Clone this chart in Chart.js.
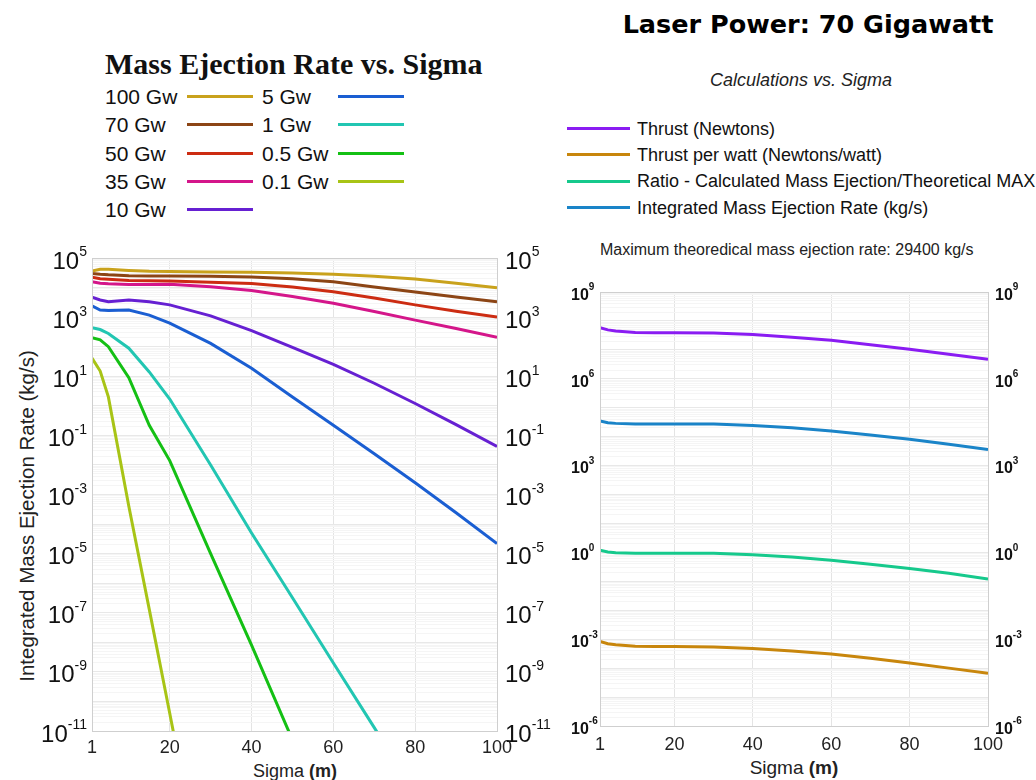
<!DOCTYPE html>
<html>
<head>
<meta charset="utf-8">
<script src="https://cdn.jsdelivr.net/npm/chart.js@4.4.1/dist/chart.umd.min.js"></script>
<style>
  body { margin: 0; width: 1036px; height: 780px; position: relative; overflow: hidden; background: #fff;
         font-family: "Liberation Sans", Arial, sans-serif; color: #111; }
  .abs { position: absolute; white-space: nowrap; }
  .sw { position: absolute; height: 3px; }
  canvas { position: absolute; }
</style>
</head>
<body>
<div class="abs" style="left:105px;top:49px;font:bold 30px/30px 'Liberation Serif',serif;">Mass Ejection Rate vs. Sigma</div>
<div class="abs" style="left:608px;top:10px;width:400px;text-align:center;font:bold 25.5px/28px 'DejaVu Sans';color:#000;">Laser Power: 70 Gigawatt</div>
<div class="abs" style="left:601px;top:71px;width:400px;text-align:center;font:italic 18px/18px 'Liberation Sans';color:#222;">Calculations vs. Sigma</div>
<div class="abs" style="left:600px;top:242px;font:16px/16px 'Liberation Sans';color:#222;">Maximum theoredical mass ejection rate: 29400 kg/s</div>
<div class="abs" style="left:-163px;top:506px;width:380px;text-align:center;transform:rotate(-90deg);font:20.5px/20px 'Liberation Sans';color:#222;">Integrated Mass Ejection Rate (kg/s)</div>
<div class="abs" style="left:195px;top:762px;width:200px;text-align:center;font:18px/18px 'Liberation Sans';color:#222;">Sigma <b>(m)</b></div>
<div class="abs" style="left:694px;top:758px;width:200px;text-align:center;font:19px/19px 'Liberation Sans';color:#222;">Sigma <b>(m)</b></div>
<div id="legendL"></div>
<div id="legendR"></div>
<canvas id="left" width="570" height="540" style="left:0;top:240px"></canvas>
<canvas id="right" width="496" height="540" style="left:540px;top:240px"></canvas>
<script>
// sigma (m)
const sigma = [1, 3, 5, 10, 15, 20, 30, 40, 50, 60, 70, 80, 90, 100];

// integrated mass ejection rate (kg/s) for each laser power
const powerLabels = ['100 Gw', '70 Gw', '50 Gw', '35 Gw', '10 Gw', '5 Gw', '1 Gw', '0.5 Gw', '0.1 Gw'];
const powerColors = ['#c9a21c', '#8c4515', '#cc2c12', '#d4168a', '#6620d2', '#1a5ed2', '#22c6b2', '#14c014', '#a8c416'];
const rate100 = [36300, 41700, 41700, 38000, 35500, 34700, 33900, 33100, 30900, 28200, 24000, 19500, 14100, 9800];
const rate70 = [30200, 28200, 26900, 25100, 24500, 24500, 24000, 22900, 20000, 15800, 10500, 7100, 4800, 3300];
const rate50 = [22400, 20000, 19100, 17400, 17000, 16600, 15100, 13800, 10500, 7200, 4400, 2600, 1580, 1000];
const rate35 = [15800, 14100, 13500, 12600, 12600, 12900, 10700, 7900, 5000, 2950, 1550, 790, 410, 210];
const rate10 = [4700, 3800, 3300, 3800, 3300, 2600, 1100, 350, 95, 25, 5.8, 1.2, 0.23, 0.042];
const rate5 = [2400, 1740, 1660, 1740, 1170, 630, 129, 18.6, 2.0, 0.22, 0.024, 2.5e-3, 2.4e-4, 2.2e-5];
const rate1 = [440, 380, 280, 89, 14, 1.7, 0.01, 5e-5, 3.2e-7, 2e-9, 1.3e-11, 8e-14, 5e-16, 3.2e-18];
const rate05 = [200, 170, 100, 8.9, 0.22, 0.014, 1e-5, 8e-9, 5e-12, 4e-15, 3e-18, 2.5e-21, 2e-24, 1.6e-27];
const rate01 = [41, 15, 2.0, 4e-4, 1.3e-7, 4e-11, 3e-18, 2.5e-25, 2e-32, 1.6e-39, 1.3e-46, 1e-53, 8e-61, 6e-68];
const powerRates = [rate100, rate70, rate50, rate35, rate10, rate5, rate1, rate05, rate01];

// 70 Gw calculations
const calcLabels = ['Thrust (Newtons)', 'Thrust per watt (Newtons/watt)', 'Ratio - Calculated Mass Ejection/Theoretical MAX', 'Integrated Mass Ejection Rate (kg/s)'];
const calcColors = ['#8a1cf2', '#c8860c', '#16c98c', '#1a84c8'];
const thrust = [5.9e7, 4.9e7, 4.5e7, 4.0e7, 3.9e7, 3.9e7, 3.8e7, 3.4e7, 2.75e7, 2.14e7, 1.51e7, 1.05e7, 7.1e6, 4.7e6];
const thrustPerWatt = [8.4e-4, 7.0e-4, 6.4e-4, 5.7e-4, 5.6e-4, 5.6e-4, 5.4e-4, 4.8e-4, 3.9e-4, 3.1e-4, 2.2e-4, 1.5e-4, 1.0e-4, 6.7e-5];
const ratio = [1.18, 1.03, 0.98, 0.94, 0.94, 0.94, 0.93, 0.83, 0.69, 0.54, 0.39, 0.28, 0.19, 0.12];
const massRate = [34700, 30200, 28800, 27500, 27500, 27500, 27500, 24500, 20400, 15800, 11500, 8100, 5500, 3630];
const calcSeries = [thrust, thrustPerWatt, ratio, massRate];

const xTicks = [1, 20, 40, 60, 80, 100];
const leftExps = [5, 3, 1, -1, -3, -5, -7, -9, -11];
const rightExps = [9, 6, 3, 0, -3, -6];

// html legends
function addText(parent, text, x, cy, size) {
  const d = document.createElement('div');
  d.className = 'abs';
  d.style.cssText = `left:${x}px;top:${cy - size * 0.49}px;font:${size}px/${size}px 'Liberation Sans';color:#111`;
  d.textContent = text;
  parent.appendChild(d);
}
function addSwatch(parent, color, x, cy, w) {
  const s = document.createElement('div');
  s.className = 'sw';
  s.style.cssText = `left:${x}px;top:${cy - 1.5}px;width:${w}px;background:${color}`;
  parent.appendChild(s);
}
const legL = document.getElementById('legendL');
const rowsL = [96.5, 124.5, 153, 181, 209.5];
powerLabels.forEach((lab, i) => {
  const col = i < 5 ? 0 : 1, row = i < 5 ? i : i - 5;
  addText(legL, lab, col ? 262 : 105, rowsL[row], 21);
  addSwatch(legL, powerColors[i], col ? 338 : 187, rowsL[row], 66);
});
const legR = document.getElementById('legendR');
const rowsR = [128.5, 154.5, 181, 207.5];
calcLabels.forEach((lab, i) => {
  addText(legR, lab, 637, rowsR[i], 18);
  addSwatch(legR, calcColors[i], 567, rowsR[i], 63);
});

// log ticks 1..9 per decade
function logTicks(lo, hi) {
  const t = [];
  for (let e = lo; e < hi; e++) for (let k = 1; k < 10; k++) t.push({ value: k * Math.pow(10, e) });
  t.push({ value: Math.pow(10, hi) });
  return t;
}
function isDecade(v) {
  const l = Math.log10(v);
  return Math.abs(l - Math.round(l)) < 1e-9;
}

// draws 10^n labels on both sides plus the plot frame
const expLabels = {
  id: 'expLabels',
  afterDraw(chart, args, o) {
    const ctx = chart.ctx, a = chart.chartArea, y = chart.scales.y;
    ctx.save();
    ctx.fillStyle = '#111';
    ctx.textBaseline = 'alphabetic';
    ctx.textAlign = 'left';
    o.exps.forEach(e => {
      const py = y.getPixelForValue(Math.pow(10, e)) + o.dy;
      const sup = String(e);
      ctx.font = o.base;
      const wb = ctx.measureText('10').width;
      ctx.font = o.sup;
      const ws = ctx.measureText(sup).width;
      const base = py + o.baseSize * 0.358;
      const supBase = py - o.baseSize * 0.358 - o.supLift + o.supSize * 0.716;
      const xs = [o.leftAlignRight ? o.leftX - wb - ws : o.leftX, a.right + o.rightGap];
      xs.forEach(x => {
        ctx.font = o.base;
        ctx.fillText('10', x, base);
        ctx.font = o.sup;
        ctx.fillText(sup, x + wb, supBase);
      });
    });
    ctx.strokeStyle = '#cfcfcf';
    ctx.lineWidth = 1;
    ctx.strokeRect(Math.round(a.left) + 0.5, Math.round(a.top) + 0.5, Math.round(a.right - a.left), Math.round(a.bottom - a.top));
    ctx.restore();
  }
};

function makeChart(id, labels, colors, series, cfg) {
  return new Chart(document.getElementById(id), {
    type: 'line',
    data: {
      datasets: series.map((s, i) => ({
        label: labels[i],
        data: sigma.map((x, j) => ({ x: x, y: s[j] })),
        borderColor: colors[i],
        borderWidth: 3,
        pointRadius: 0,
        tension: 0,
        fill: false
      }))
    },
    options: {
      responsive: false,
      animation: false,
      events: [],
      layout: { padding: cfg.padding },
      plugins: { legend: { display: false }, tooltip: { enabled: false }, expLabels: cfg.labels },
      scales: {
        x: {
          type: 'linear', min: 1, max: 100,
          afterBuildTicks: s => { s.ticks = xTicks.map(v => ({ value: v })); },
          afterFit: s => { s.height = cfg.xHeight; },
          grid: { color: '#e4e4e4', drawTicks: false },
          border: { display: false },
          ticks: { font: { family: 'Liberation Sans', size: 18 }, color: '#222', padding: cfg.xPad, maxRotation: 0, autoSkip: false }
        },
        y: {
          type: 'logarithmic', min: Math.pow(10, cfg.lo), max: Math.pow(10, cfg.hi),
          afterBuildTicks: s => { s.ticks = logTicks(cfg.lo, cfg.hi); },
          afterFit: s => { s.width = cfg.yWidth; },
          grid: { color: c => (c.tick && isDecade(c.tick.value) ? '#e8e8e8' : '#f5f5f5'), drawTicks: false },
          border: { display: false },
          ticks: { display: false, autoSkip: false }
        }
      }
    },
    plugins: [expLabels]
  });
}

makeChart('left', powerLabels, powerColors, powerRates, {
  lo: -11, hi: 5, padding: { top: 18, right: 73, left: 0, bottom: 0 }, yWidth: 92, xHeight: 49, xPad: 6,
  labels: { exps: leftExps, base: '24px "Liberation Sans"', sup: '14px "Liberation Sans"', baseSize: 24, supSize: 14,
            supLift: 5, dy: 2, leftAlignRight: true, leftX: 87, rightGap: 8 }
});
makeChart('right', calcLabels, calcColors, calcSeries, {
  lo: -6, hi: 9, padding: { top: 52, right: 48, left: 0, bottom: 0 }, yWidth: 60, xHeight: 54, xPad: 8,
  labels: { exps: rightExps, base: 'bold 16px "Liberation Sans"', sup: 'bold 10px "Liberation Sans"', baseSize: 16, supSize: 10,
            supLift: 5, dy: 2, leftAlignRight: false, leftX: 31, rightGap: 7 }
});
</script>
</body>
</html>
